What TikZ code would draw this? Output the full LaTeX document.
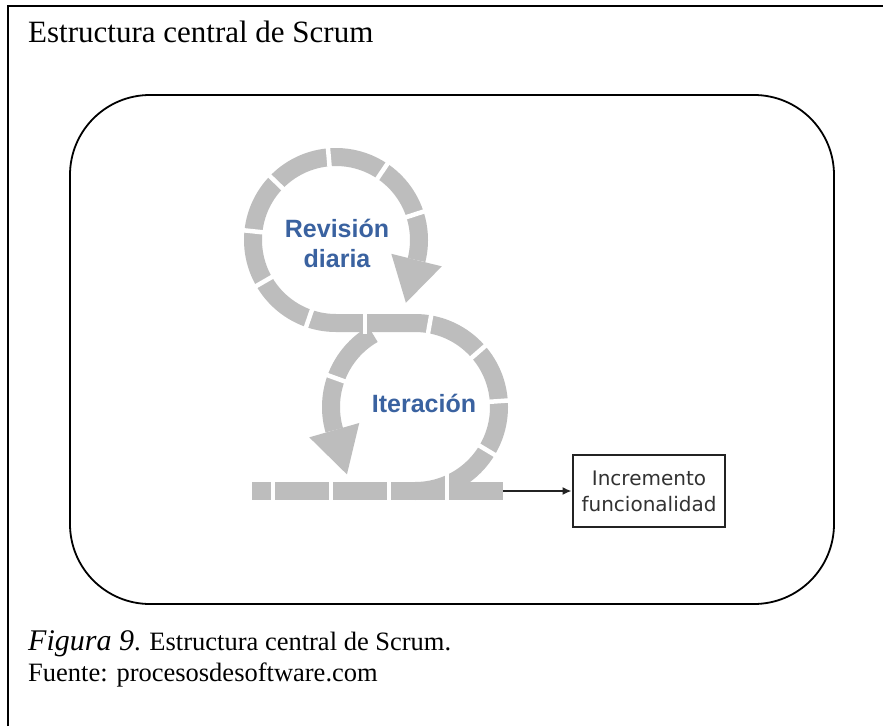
\documentclass[tikz,border=0pt]{standalone}
\usepackage{fontspec}
\setmainfont{Liberation Serif}
\newfontfamily\labelfont{Liberation Sans}
\newfontfamily\boxfont{DejaVu Sans}
\usetikzlibrary{calc,arrows.meta}
\definecolor{ringgray}{RGB}{189,189,189}
\definecolor{lblblue}{RGB}{58,98,160}
\definecolor{boxdark}{RGB}{35,35,35}
\definecolor{textdark}{RGB}{50,50,50}
\tikzset{
  frameline/.style={line width=1.6pt, black},
  ringline/.style={draw=ringgray, line width=18pt, line cap=butt},
  ringgap/.style={draw=white, line width=4.5pt},
  looplabel/.style={text=lblblue, align=center, inner sep=0pt,
    font=\labelfont\bfseries\fontsize{25}{30}\selectfont},
  incbox/.style={draw=boxdark, line width=2.8pt, text=textdark, align=center,
    minimum width=152pt, minimum height=72pt, inner sep=0pt,
    font=\boxfont\fontsize{20}{26}\selectfont},
  conn/.style={draw=boxdark, line width=2.5pt, -{Latex[length=9pt,width=8pt]}},
}
\begin{document}
\begin{tikzpicture}[x=1pt,y=1pt]
\useasboundingbox (0,0) rectangle (883,-726);
\fill[white] (0,0) rectangle (883,-726);

% outer frame (only top and left edges fall inside the page)
\draw[frameline] (8,-726) -- (8,-6) -- (883,-6);

% heading
\node[anchor=base west, inner sep=0pt] (title) at (28,-42)
  {\fontsize{31}{37}\selectfont Estructura central de Scrum};

% rounded panel
\draw[line width=1.8pt, rounded corners=80pt] (70,-95) rectangle (834,-604);

% loop centres
\coordinate (C1) at (336,-240);
\coordinate (C2) at (415,-407);

% main band: right half of the sprint loop, link, daily loop
\draw[ringline] (C2) ++(-90:84) arc[start angle=-90, end angle=90, radius=84]
  -- ($(C1)+(270:83)$) arc[start angle=270, end angle=-14, radius=83];
% left half of the sprint loop
\draw[ringline] ($(C2)+(120:84)$) arc[start angle=120, end angle=196, radius=84];
% bottom band
\draw[ringline] (252,-491) -- (503,-491);

% arrowheads
\fill[ringgray] ($(C1)+(-14:57)$) -- ($(C1)+(-14:109)$)
  -- ($(C1)+(-14:83)+(-104:44)$) -- cycle;
\fill[ringgray] ($(C2)+(196:58)$) -- ($(C2)+(196:110)$)
  -- ($(C2)+(196:84)+(286:46)$) -- cycle;

% gaps between band pieces
\foreach \a in {18,56,95,136,174,210,251}
  \draw[ringgap] ($(C1)+(\a:70)$) -- ($(C1)+(\a:96)$);
\foreach \a in {80,41,4,-31,160}
  \draw[ringgap] ($(C2)+(\a:71)$) -- ($(C2)+(\a:97)$);
\draw[ringgap] (365,-312) -- (365,-334);
\foreach \x in {273,331,389}
  \draw[ringgap] (\x,-480) -- (\x,-502);
\draw[ringgap] (447,-472) -- (447,-502);

% labels
\node[looplabel] (rev) at (337,-243) {Revisión\\diaria};
\node[looplabel] (iter) at (424,-403) {Iteración};

% output box and connector
\node[incbox] (inc) at (649,-491) {Incremento\\funcionalidad};
\coordinate (out) at (503,-491);
\draw[conn] (out) -- (inc.west);

% caption
\node[anchor=base west, inner sep=0pt] (cap1) at (28,-650)
  {{\fontsize{30}{36}\selectfont\itshape Figura 9}{\fontsize{26.5}{32}\selectfont. Estructura central de Scrum.}};
\node[anchor=base west, inner sep=0pt] (cap2) at (28,-681)
  {\fontsize{26.5}{32}\selectfont Fuente: procesosdesoftware.com};
\end{tikzpicture}
\end{document}
